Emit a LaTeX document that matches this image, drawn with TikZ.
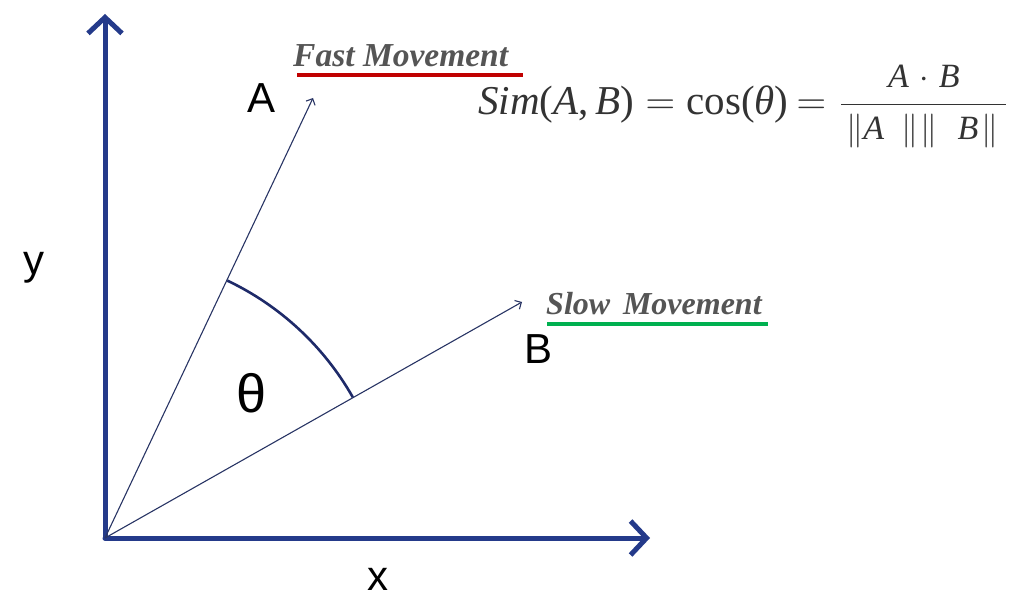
\RequirePackage{fix-cm}
\documentclass[tikz,border=0pt]{standalone}
\usepackage{amsmath}
\usepackage{fontspec}
\setmainfont{Liberation Serif}
\newfontfamily\sansf{Liberation Sans}
\usetikzlibrary{arrows.meta}
\definecolor{axisblue}{RGB}{36,58,138}
\definecolor{vecblue}{RGB}{40,52,100}
\definecolor{arcblue}{RGB}{30,42,105}
\definecolor{labgray}{RGB}{85,85,85}
\definecolor{fastred}{RGB}{192,0,0}
\definecolor{slowgreen}{RGB}{0,176,80}
\newcommand{\fracsize}{\fontsize{34}{40}\selectfont}
\tikzset{
  axis/.style={draw=axisblue, line width=5pt, line cap=round,
    -{Straight Barb[length=16pt,width=34pt,line width=5pt]}},
  vec/.style={draw=vecblue, line width=1.1pt,
    -{Straight Barb[length=5pt,width=10pt,line width=1.1pt]}},
  anglearc/.style={draw=arcblue, line width=2.6pt},
  sanslab/.style={font=\sansf\fontsize{42}{48}\selectfont, inner sep=0pt},
  movelab/.style={font=\fontsize{32}{36}\selectfont\bfseries\itshape, text=labgray, inner sep=0pt},
  underline/.style={line width=4pt},
}
\begin{document}
\begin{tikzpicture}[x=1pt,y=1pt]
\useasboundingbox (0,0) rectangle (1011,598);
% axes
\coordinate (O) at (105,60);
\coordinate (Ytip) at (105,584);
\coordinate (Xtip) at (650,60);
\draw[axis] (O) -- (Ytip);
\draw[axis] (O) -- (Xtip);
% vectors
\coordinate (Atip) at (313,500);
\coordinate (Btip) at (522,296);
\draw[vec] (O) -- (Atip);
\draw[vec] (O) -- (Btip);
% angle arc
\draw[anglearc] (O) ++(64.6:285) arc[start angle=64.6, end angle=29.6, radius=285];
% labels
\node[sanslab, anchor=base] (lA) at (262,485) {A};
\node[sanslab, anchor=base] (lB) at (538,235) {B};
\node[sanslab, anchor=base] (lx) at (378,8) {x};
\node[sanslab, anchor=base] (ly) at (34,324) {y};
\node[font=\sansf\fontsize{54}{60}\selectfont, inner sep=0pt, anchor=base] (lt) at (252,186) {θ};
% movement labels
\node[movelab, font=\fontsize{33.5}{38}\selectfont\bfseries\itshape, anchor=base west] (fast) at (293,531) {Fast Movement};
\coordinate (f1) at (297,523);
\coordinate (f2) at (523,523);
\draw[fastred, underline] (f1) -- (f2);
\node[movelab, anchor=base west] (slow) at (546,284) {Slow\hspace{0.15em} Movement};
\coordinate (s1) at (547,274);
\coordinate (s2) at (768,274);
\draw[slowgreen, underline] (s1) -- (s2);
% formula
\node[font=\fontsize{41}{46}\selectfont, text=black!80, inner sep=0pt, anchor=base west] (formula) at (478,483)
 {\textit{Sim}(\textit{A},\,\textit{B})$\;=\;$cos(\textit{θ})\hspace{8pt}${=}\hspace{14pt}\dfrac{\text{\fracsize\textit{A}\hspace{0.3em}$\cdot$\hspace{0.3em}\textit{B}}}{\raisebox{4pt}{\fracsize\kern5pt$\|$\textit{A}\hspace{0.5em}$\|\kern2pt\|$\hspace{0.6em}\textit{B}\kern3pt$\|$\kern8pt}}$};
\end{tikzpicture}
\end{document}
